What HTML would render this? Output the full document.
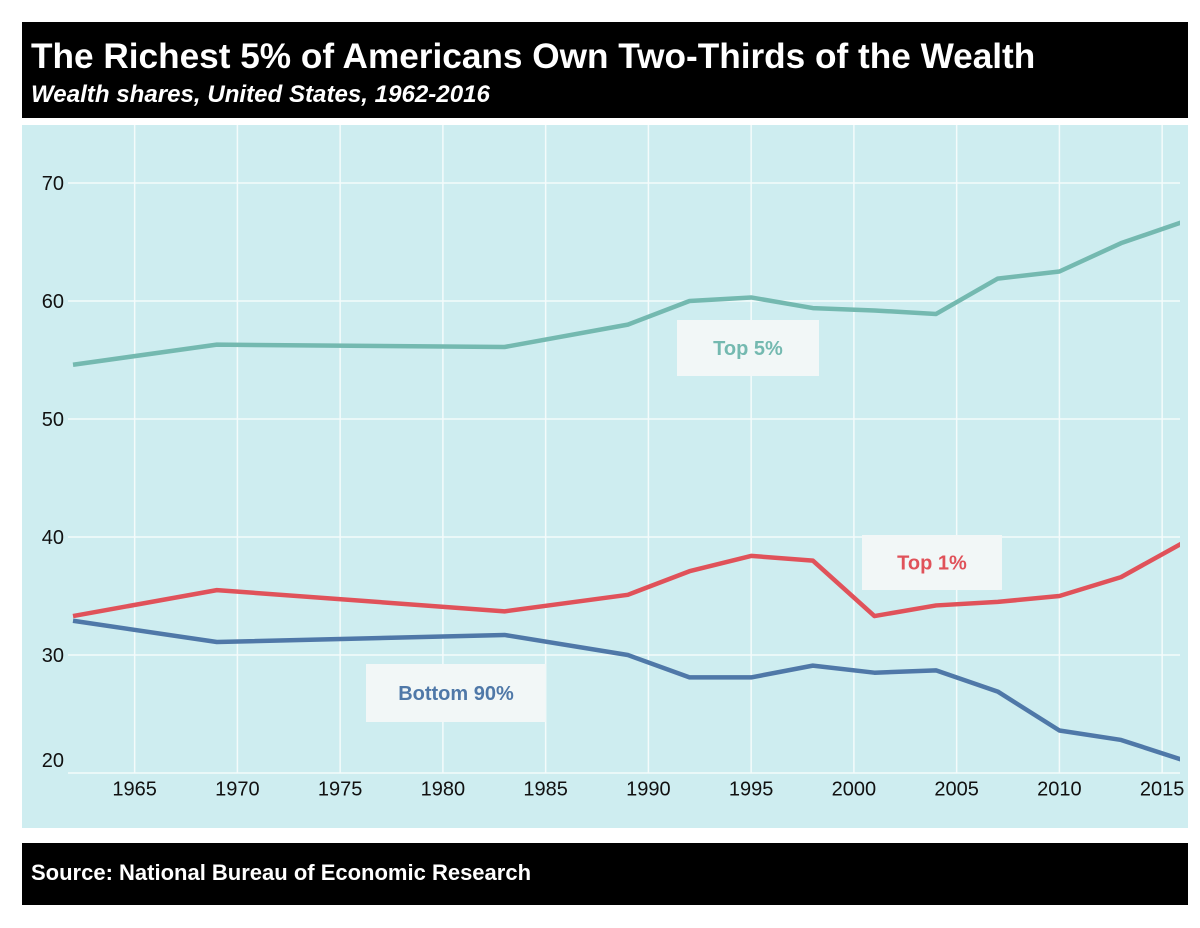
<!DOCTYPE html>
<html><head><meta charset="utf-8"><style>
body{margin:0;background:#fff;width:1200px;height:923px;overflow:hidden;font-family:"Liberation Sans",Arial,sans-serif}
</style></head><body>
<svg width="1200" height="923">
<defs><clipPath id="clip"><rect x="68" y="125" width="1112" height="660"/></clipPath></defs>
<rect x="22" y="22" width="1166" height="96" fill="#000"/>
<text x="31" y="68" font-size="35.2" font-weight="bold" fill="#fff">The Richest 5% of Americans Own Two-Thirds of the Wealth</text>
<text x="31" y="102" font-size="24.1" font-weight="bold" font-style="italic" fill="#fff">Wealth shares, United States, 1962-2016</text>
<rect x="22" y="125" width="1166" height="703" fill="#ceedf0"/>
<g id="grid"></g>
<g id="lines" clip-path="url(#clip)"></g>
<g id="labels"></g>
<rect x="22" y="843" width="1166" height="62" fill="#000"/>
<text x="31" y="880" font-size="22" font-weight="bold" fill="#fff">Source: National Bureau of Economic Research</text>
</svg>
<script>
const years=[1962,1969,1983,1989,1992,1995,1998,2001,2004,2007,2010,2013,2016];
const top5=[54.6,56.3,56.1,58.0,60.0,60.3,59.4,59.2,58.9,61.9,62.5,64.9,66.7];
const top1=[33.3,35.5,33.7,35.1,37.1,38.4,38.0,33.3,34.2,34.5,35.0,36.6,39.5];
const bottom90=[32.9,31.1,31.7,30.0,28.1,28.1,29.1,28.5,28.7,26.9,23.6,22.8,21.1];
const xTicks=[1965,1970,1975,1980,1985,1990,1995,2000,2005,2010,2015];
const yTicks=[20,30,40,50,60,70];
const NS='http://www.w3.org/2000/svg';
const X=y=>73+(y-1962)*20.55;
const Y=v=>183+(70-v)*11.8;
function mk(t,a,p){const e=document.createElementNS(NS,t);for(const k in a)e.setAttribute(k,a[k]);p.appendChild(e);return e;}
const g=document.getElementById('grid');
xTicks.forEach(t=>{
 const l=mk('line',{x1:X(t),x2:X(t),y1:125,y2:773,stroke:'#f4fbfb','stroke-width':1.5},g);
 
 
 const tx=mk('text',{x:X(t),y:782,'font-size':20,'text-anchor':'middle','dominant-baseline':'hanging',fill:'#111'},g);
 tx.textContent=t;
 
 
});
yTicks.forEach(t=>{
 const l=mk('line',{x1:68,x2:1180,y1:Y(t),y2:Y(t),stroke:'#f4fbfb','stroke-width':1.5},g);
 
 
 const tx=mk('text',{x:64,y:(t==20?Y(t)-13:Y(t))+7,'font-size':20,'text-anchor':'end',fill:'#111'},g);
 tx.textContent=t;
 
 
});
const L=document.getElementById('lines');
[[top5,'#74b9b0','top-5-line'],[top1,'#e0525a','top-1-line'],[bottom90,'#4f78a8','bottom-90-line']].forEach(([d,c,n])=>{
 const p=mk('polyline',{points:d.map((v,i)=>X(years[i])+','+Y(v)).join(' '),fill:'none',stroke:c,'stroke-width':4.5,'stroke-linejoin':'round'},L);
 
 
});
const B=document.getElementById('labels');
[[677,320,142,56,'Top 5%','#74b9b0','top-5-label'],[862,535,140,55,'Top 1%','#e0525a','top-1-label'],[366,664,180,58,'Bottom 90%','#4f78a8','bottom-90-label']].forEach(([x,y,w,h,t,c,n])=>{
 const r=mk('rect',{x:x,y:y,width:w,height:h,fill:'#f2f7f7'},B);
 
 
 const tx=mk('text',{x:x+w/2,y:y+h/2+7,'font-size':20,'font-weight':'bold','text-anchor':'middle',fill:c},B);
 tx.textContent=t;
 
 
});
</script>
</body></html>
